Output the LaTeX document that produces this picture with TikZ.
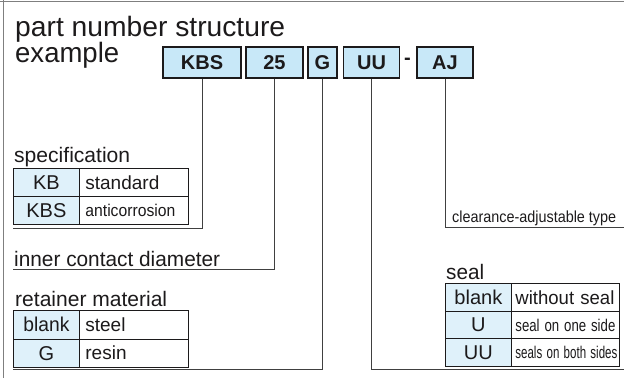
\documentclass[tikz,border=0pt]{standalone}
\usepackage{fontspec}
\setmainfont{Liberation Sans}
\usepackage{graphicx}
\definecolor{ink}{HTML}{1C1A1B}
\definecolor{boxblue}{HTML}{C8E8F8}
\definecolor{cellblue}{HTML}{DFF1FA}
\definecolor{framegray}{HTML}{7F7F7F}
\definecolor{linegray}{HTML}{404040}
\newcommand{\fitw}[3]{\resizebox{#1pt}{\height}{\fontsize{#2}{#2}\selectfont #3}}
\tikzset{
  pbox/.style={draw=ink, line width=1.1pt, fill=boxblue, inner sep=0pt, minimum height=31pt,
    font=\fontsize{20}{20}\selectfont\bfseries, text=ink},
  keycell/.style={draw=ink, line width=0.8pt, fill=cellblue, inner sep=0pt, minimum width=66pt,
    anchor=north west, text=ink, font=\fontsize{20}{20}\selectfont},
  desccell/.style={draw=ink, line width=0.8pt, fill=white, inner ysep=0pt, align=left,
    anchor=north west, text=ink, font=\fontsize{19}{19}\selectfont},
  labeltext/.style={anchor=base west, inner sep=0pt, text=ink},
  conn/.style={draw=linegray, line width=1pt},
  frameline/.style={draw=framegray, line width=1.6pt}
}
\begin{document}
\begin{tikzpicture}[x=1pt,y=-1pt]
\useasboundingbox (0,0) rectangle (624,378);
% frame
\draw[frameline] (3.5,0) -- (3.5,378);
\draw[frameline] (0,1.5) -- (624,1.5);

% title
\node[labeltext] (t1) at (15,36) {\fitw{270}{28}{part number structure}};
\node[labeltext] (t2) at (15,62.5) {\fitw{104}{28}{example}};

% part number boxes
\node[pbox, minimum width=78pt] (kbs) at (202,62.5) {KBS};
\node[pbox, minimum width=57pt] (n25) at (274.5,62.5) {25};
\node[pbox, minimum width=29pt] (g) at (322.5,62.5) {G};
\node[pbox, minimum width=56pt] (uu) at (371.5,62.5) {UU};
\node[font=\fontsize{20}{20}\selectfont\bfseries, text=ink, inner sep=0pt] (dash) at (407.5,61) {-};
\node[pbox, minimum width=56pt] (aj) at (445,62.5) {AJ};

% specification
\node[labeltext] (spech) at (14,162.5) {\fitw{116}{21}{specification}};
\node[keycell, minimum height=28pt] (s1k) at (13,168) {KB};
\node[desccell, minimum height=28pt, text width=97pt, inner xsep=6pt] (s1d) at (79,168) {standard};
\node[keycell, minimum height=28pt] (s2k) at (13,196) {KBS};
\node[desccell, minimum height=28pt, text width=97pt, inner xsep=6pt] (s2d) at (79,196) {\fitw{90}{17}{anticorrosion}};
\coordinate (specend) at (13,228);
\draw[conn] (kbs.south) |- (specend);

% inner contact diameter
\node[labeltext] (diah) at (14,266) {\fitw{206}{21}{inner contact diameter}};
\coordinate (diaend) at (13,269.5);
\draw[conn] (n25.south) |- (diaend);

% retainer material
\node[labeltext] (math) at (15,306) {\fitw{152}{21}{retainer material}};
\node[keycell, minimum height=28.5pt] (m1k) at (13,310) {\fitw{46}{20}{blank}};
\node[desccell, minimum height=28.5pt, text width=97pt, inner xsep=6pt] (m1d) at (79,310) {steel};
\node[keycell, minimum height=28.5pt] (m2k) at (13,338.5) {G};
\node[desccell, minimum height=28.5pt, text width=97pt, inner xsep=6pt] (m2d) at (79,338.5) {resin};
\coordinate (matend) at (13,369.5);
\draw[conn] (g.south) |- (matend);

% clearance-adjustable
\node[labeltext] (adjh) at (452,222) {\fitw{164}{16}{clearance-adjustable type}};
\coordinate (adjend) at (624,227);
\draw[conn] (aj.south) |- (adjend);

% seal
\node[labeltext] (sealh) at (446,279) {\fitw{38}{21}{seal}};
\node[keycell, minimum height=27.7pt] (e1k) at (445,283) {\fitw{48}{20}{blank}};
\node[desccell, minimum height=27.7pt, text width=100pt, inner xsep=4pt] (e1d) at (511,283) {\fitw{99}{19}{without seal}};
\node[keycell, minimum height=27.7pt] (e2k) at (445,310.7) {U};
\node[desccell, minimum height=27.7pt, text width=100pt, inner xsep=4pt] (e2d) at (511,310.7) {\fitw{100}{17}{seal on one side}};
\node[keycell, minimum height=27.7pt] (e3k) at (445,338.4) {UU};
\node[desccell, minimum height=27.7pt, text width=100pt, inner xsep=4pt] (e3d) at (511,338.4) {\fitw{102}{17}{seals on both sides}};
\coordinate (sealend) at (624,369.5);
\draw[conn] (uu.south) |- (sealend);
\end{tikzpicture}
\end{document}
